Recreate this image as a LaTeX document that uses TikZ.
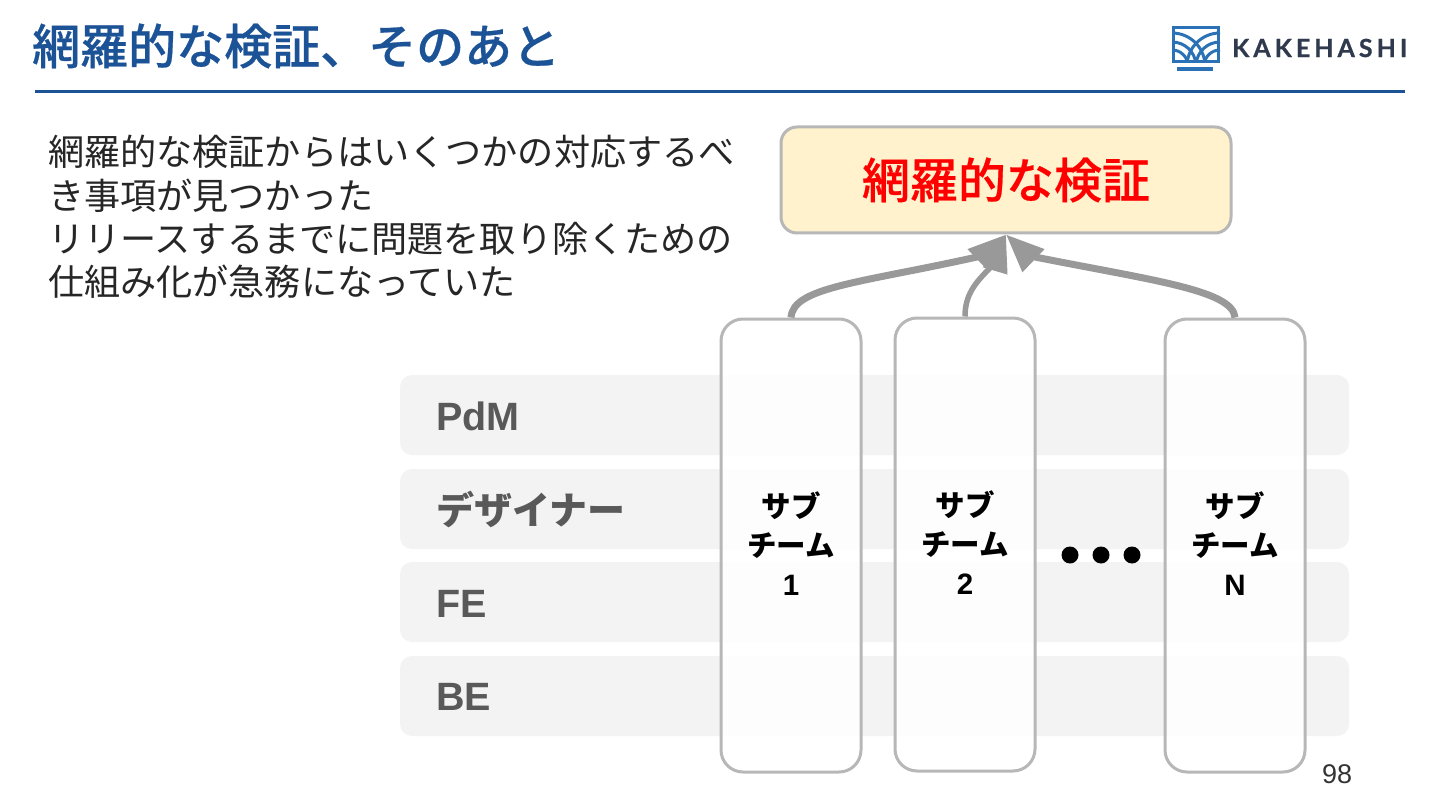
\documentclass[tikz,border=0pt]{standalone}
\usepackage{fontspec}
\usetikzlibrary{arrows.meta}
\setmainfont{Noto Sans CJK JP}
\newfontfamily\medfont[FakeBold=0.5]{Noto Sans CJK JP Medium}
\newfontfamily\latinfont{Liberation Sans}
\newfontfamily\logofont[LetterSpace=16,FakeBold=0.6]{Lato}
\definecolor{titleblue}{HTML}{1C5397}
\definecolor{rulegrey}{HTML}{B7B7B7}
\definecolor{arrowgrey}{HTML}{999999}
\definecolor{bandgrey}{HTML}{F3F3F3}
\definecolor{labelgrey}{HTML}{595959}
\definecolor{creamfill}{HTML}{FFF2CC}
\definecolor{logoblue}{HTML}{2A72B5}
\definecolor{logotext}{HTML}{2F3A4E}
\tikzset{
  bandbox/.style={fill=bandgrey,rounded corners=12pt,minimum width=949pt,minimum height=80pt,inner sep=0pt},
  bandlabel/.style={anchor=west,text=labelgrey,font=\fontsize{38}{44}\selectfont\bfseries,inner sep=0pt},
  latinlabel/.style={anchor=west,text=labelgrey,font=\fontsize{39.5}{44}\latinfont\bfseries,inner sep=0pt},
  subteam/.style={draw=rulegrey,line width=3pt,fill=white,fill opacity=.9,rounded corners=22pt,
    minimum width=140pt,minimum height=453pt,inner sep=0pt},
  subtext/.style={inner sep=0pt,align=center,text=black,font=\fontsize{29.5}{39}\selectfont\bfseries},
  feed/.style={draw=arrowgrey,line width=7pt,-{Triangle[length=38pt,width=30pt]}},
  feedthin/.style={draw=arrowgrey,line width=5.5pt,-{Triangle[length=38pt,width=24pt]}},
  dotmark/.style={circle,fill=black,minimum size=17pt,inner sep=0pt},
  logoline/.style={draw=logoblue,line width=3pt},
}
\begin{document}
\begin{tikzpicture}[x=1pt,y=-1pt]
\useasboundingbox (0,0) rectangle (1440,810);
\fill[white] (0,0) rectangle (1440,810);
% title
\node[anchor=west,inner sep=0pt,text=titleblue,font=\fontsize{48}{56}\medfont] (title) at (32,46) {網羅的な検証、そのあと};
\coordinate (ruleL) at (35,92);
\coordinate (ruleR) at (1405,92);
\draw[titleblue,line width=3pt] (ruleL) -- (ruleR);
% logo
\begin{scope}
  \clip (1172,26) rectangle (1220,63);
  \draw[logoline] (1172,50) arc[start angle=-90,end angle=-5,radius=16];
  \draw[logoline] (1172,42) arc[start angle=-90,end angle=-5,radius=24];
  \draw[logoline] (1172,33) arc[start angle=-90,end angle=-5,radius=33];
  \draw[logoline] (1220,50) arc[start angle=-90,end angle=-175,radius=16];
  \draw[logoline] (1220,42) arc[start angle=-90,end angle=-175,radius=24];
  \draw[logoline] (1220,33) arc[start angle=-90,end angle=-175,radius=33];
\end{scope}
\draw[logoblue,line width=3.5pt] (1173.7,27.7) rectangle (1218.3,61.3);
\fill[logoblue] (1177,67) rectangle (1213,71);
\node[anchor=west,inner sep=0pt,text=logotext,font=\fontsize{25}{30}\logofont\bfseries] (logo) at (1232,48) {KAKEHASHI};
% body text
\node[anchor=north west,inner sep=0pt,align=left,text=black!85,font=\fontsize{36.13}{43.4}\selectfont] (body) at (48,135)
 {網羅的な検証からはいくつかの対応するべ\\き事項が見つかった\\リリースするまでに問題を取り除くための\\仕組み化が急務になっていた};
% top box
\node[draw=rulegrey,line width=3pt,fill=creamfill,rounded corners=16pt,minimum width=450pt,minimum height=106pt,inner sep=0pt,
  text=red,font=\fontsize{48}{56}\medfont] (verify) at (1006,180) {網羅的な検証};
% bands
\node[bandbox] (bandA) at (874.5,415) {};
\node[bandbox] (bandB) at (874.5,509) {};
\node[bandbox] (bandC) at (874.5,602) {};
\node[bandbox] (bandD) at (874.5,696) {};
\node[latinlabel] (labA) at (436,416) {PdM};
\node[bandlabel] (labB) at (436,510) {デザイナー};
\node[latinlabel] (labC) at (436,604) {FE};
\node[latinlabel] (labD) at (436,697) {BE};
% columns
\node[subteam] (sub1) at (791,545.5) {};
\node[subteam] (sub2) at (965,544.5) {};
\node[subteam] (sub3) at (1235,545.5) {};
\node[subtext] (subt1) at (791,543.5) {サブ\\チーム\\{\latinfont\bfseries 1}};
\node[subtext] (subt2) at (965,542.5) {サブ\\チーム\\{\latinfont\bfseries 2}};
\node[subtext] (subt3) at (1235,543.5) {サブ\\チーム\\{\latinfont\bfseries N}};
\node[dotmark] (dotA) at (1070,555) {};
\node[dotmark] (dotB) at (1101,555) {};
\node[dotmark] (dotC) at (1132,555) {};
% connectors
\path[feed] (sub1.north) .. controls (793,287) and (860,283) .. (977,257) .. controls (985,253) and (995,245) .. (verify.south);
\path[feedthin] (sub2.north) .. controls (965,295) and (975,283) .. (990,268) .. controls (996,260) and (1002,248) .. (verify.south);
\path[feed] (sub3.north) .. controls (1233,290) and (1150,280) .. (1035,257) .. controls (1027,253) and (1017,245) .. (verify.south);
% page number
\node[inner sep=0pt,text=black!80,font=\fontsize{27}{30}\latinfont] (page) at (1337,774) {98};
\end{tikzpicture}
\end{document}
